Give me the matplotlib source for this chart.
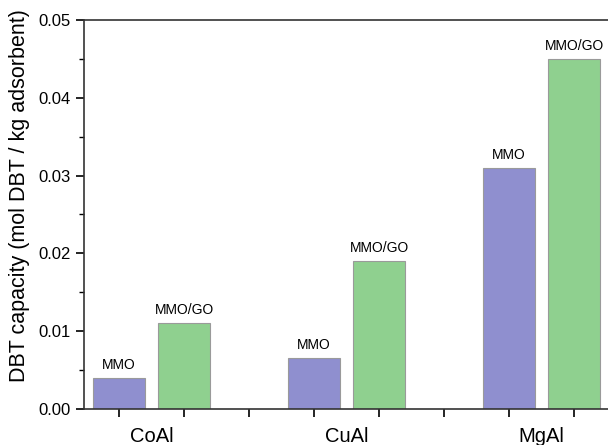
import matplotlib
matplotlib.use("Agg")
import matplotlib.pyplot as plt
from matplotlib.ticker import MultipleLocator, FormatStrFormatter

plt.rcParams['font.family'] = ['Liberation Sans', 'DejaVu Sans']

# donnees
categories = ["CoAl", "CuAl", "MgAl"]
mmo = [0.004, 0.0065, 0.031]
mmo_go = [0.011, 0.019, 0.045]
etiquettes = ["MMO", "MMO/GO"]

couleur_mmo = "#8f8fcf"
couleur_go = "#8fd08f"

fig = plt.figure(figsize=(6.08, 4.45), dpi=100)
ax = fig.add_axes([0.138, 0.081, 0.862, 0.874])

largeur = 0.8
for i, cat in enumerate(categories):
    x1 = 1 + 3 * i
    x2 = x1 + 1
    ax.bar(x1, mmo[i], width=largeur, color=couleur_mmo, edgecolor="#9a9a9a", linewidth=0.8)
    ax.bar(x2, mmo_go[i], width=largeur, color=couleur_go, edgecolor="#9a9a9a", linewidth=0.8)
    ax.text(x1, mmo[i] + 0.0008, etiquettes[0], ha="center", va="bottom", fontsize=10)
    ax.text(x2, mmo_go[i] + 0.0008, etiquettes[1], ha="center", va="bottom", fontsize=10)
    ax.text((x1 + x2) / 2, -0.072, cat, ha="center", va="center", fontsize=14.5,
            transform=ax.get_xaxis_transform())

ax.set_xlim(0.46, 8.52)
ax.set_ylim(0, 0.05)
ax.set_xticks(range(1, 9))
ax.set_xticklabels([])
ax.yaxis.set_major_locator(MultipleLocator(0.01))
ax.yaxis.set_minor_locator(MultipleLocator(0.005))
ax.yaxis.set_major_formatter(FormatStrFormatter("%.2f"))
ax.tick_params(axis="both", which="major", direction="out", length=6, width=1.2, labelsize=12)
ax.tick_params(axis="y", which="minor", direction="out", length=3.5, width=1.0)
ax.spines["right"].set_visible(False)
for s in ["left", "bottom", "top"]:
    ax.spines[s].set_linewidth(1.2)
    ax.spines[s].set_color("#333333")

# titre de l'axe y (decale vers le haut comme sur l'original)
fig.text(20 / 608, 1 - 196 / 445, "DBT capacity (mol DBT / kg adsorbent)", rotation=90,
         ha="center", va="center", fontsize=15.5)

fig.savefig("out.png", dpi=100)
